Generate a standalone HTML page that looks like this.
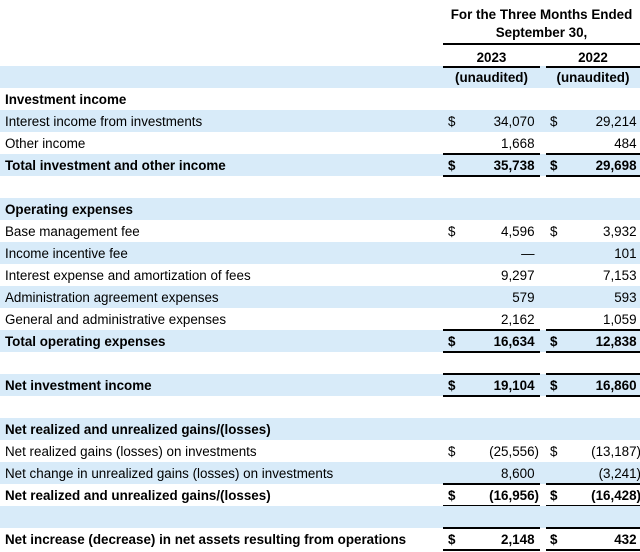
<!DOCTYPE html>
<html><head><meta charset="utf-8"><style>
body{margin:0;width:640px;height:550px;background:#fff;overflow:hidden;position:relative;font-family:"Liberation Sans",sans-serif;font-size:13.4px;color:#000}
.row{position:absolute;left:0;width:640px;height:22px;line-height:24px}
.b{background:#d8ebf9}
.lbl{position:absolute;left:5px;white-space:nowrap}
.bold{font-weight:bold}
.d{position:absolute;width:10px}
.v{position:absolute;text-align:right;width:90px;white-space:nowrap}
.ln{position:absolute;height:2px;background:#000}
.h{position:absolute;text-align:center;font-weight:bold;white-space:nowrap}
</style></head><body>
<div class="h" style="left:443px;width:197px;top:6px;line-height:18px">For the Three Months Ended<br>September 30,</div>
<div class="ln" style="left:443px;width:197px;top:43px"></div>
<div class="h" style="left:443px;width:97px;top:47px;line-height:22px">2023</div>
<div class="h" style="left:546px;width:94px;top:47px;line-height:22px">2022</div>
<div id="rows"></div>
<script>
const labels=["","Investment income","Interest income from investments","Other income","Total investment and other income","","Operating expenses","Base management fee","Income incentive fee","Interest expense and amortization of fees","Administration agreement expenses","General and administrative expenses","Total operating expenses","","Net investment income","","Net realized and unrealized gains/(losses)","Net realized gains (losses) on investments","Net change in unrealized gains (losses) on investments","Net realized and unrealized gains/(losses)","","Net increase (decrease) in net assets resulting from operations"];
const v2023=["(unaudited)","","34,070","1,668","35,738","","","4,596","—","9,297","579","2,162","16,634","","19,104","","","(25,556)","8,600","(16,956)","","2,148"];
const v2022=["(unaudited)","","29,214","484","29,698","","","3,932","101","7,153","593","1,059","12,838","","16,860","","","(13,187)","(3,241)","(16,428)","","432"];
const boldRows=[0,1,4,6,12,14,16,19,21];
const dollarRows=[2,4,7,12,14,17,19,21];
const totalRows=[4,12,14,19,21];
const host=document.getElementById('rows');
labels.forEach((l,i)=>{
  const top=66+i*22;
  const r=document.createElement('div');
  r.className='row'+(i%2===0?' b':'')+(boldRows.includes(i)?' bold':'');
  r.style.top=top+'px';
  
  
  let h='';
  if(l) h+='<span class="lbl">'+l+'</span>';
  if(i===0){
    h+='<span class="h" style="left:443px;width:97px">'+v2023[0]+'</span>';
    h+='<span class="h" style="left:546px;width:94px">'+v2022[0]+'</span>';
  } else {
    const pad=(s)=>s.endsWith(')')?'':'<span style="visibility:hidden">)</span>';
    if(dollarRows.includes(i)){
      h+='<span class="d" style="left:448px">$</span>';
      h+='<span class="d" style="left:550px">$</span>';
    }
    if(v2023[i]) h+='<span class="v" style="left:449px">'+v2023[i]+pad(v2023[i])+'</span>';
    if(v2022[i]) h+='<span class="v" style="left:551px">'+v2022[i]+pad(v2022[i])+'</span>';
  }
  r.innerHTML=h;
  host.appendChild(r);
  if(i===0){
    [[443,97],[546,94]].forEach(([x,w])=>{const ln=document.createElement('div');ln.className='ln';ln.style.cssText=`left:${x}px;width:${w}px;top:${top}px`;
    
    
    host.appendChild(ln);});
  }
  if(totalRows.includes(i)){
    [[443,97],[546,94]].forEach(([x,w])=>{[top-1,top+21].forEach(y=>{const ln=document.createElement('div');ln.className='ln';ln.style.cssText=`left:${x}px;width:${w}px;top:${y}px`;
    
    
    host.appendChild(ln);});});
  }
});
</script>
</body></html>
